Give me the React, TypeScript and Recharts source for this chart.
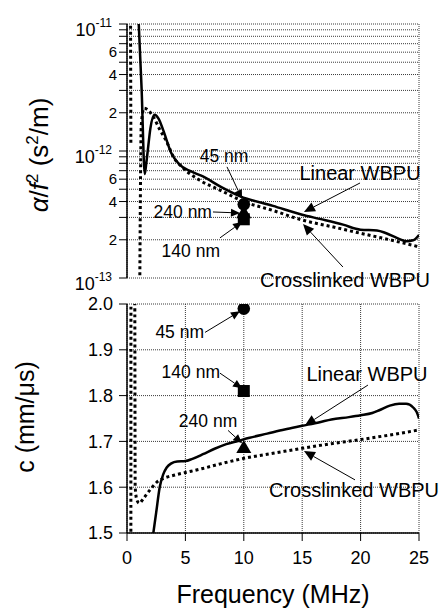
import React from "react";
import { ComposedChart, Line, Scatter, XAxis, YAxis, CartesianGrid, ReferenceLine } from "recharts";

const FONT = '"Liberation Sans", Arial, sans-serif';

// upper panel: alpha / f^2 (s^2/m)
const topLinearFreq = [0.95, 1.25, 1.52, 1.65, 1.8, 2.0, 2.35, 2.7, 3.1, 3.8, 4.5, 5.5, 6.5, 8, 9.7, 12.5, 15, 16.5, 18.5, 20, 21.4, 22.2, 23.1, 23.95, 24.5, 25];
const topLinearAtt = [1.3e-11, 3.1e-12, 6.6e-13, 8e-13, 1.05e-12, 1.5e-12, 1.93e-12, 1.8e-12, 1.46e-12, 9.6e-13, 7.8e-13, 6.9e-13, 6.3e-13, 5.25e-13, 4.4e-13, 3.7e-13, 3.15e-13, 2.92e-13, 2.63e-13, 2.4e-13, 2.37e-13, 2.25e-13, 2.07e-13, 1.95e-13, 1.98e-13, 2.18e-13];

const topCrossFreq = [0.3, 0.33, 0.7, 1.1, 1.22, 1.46, 2.25, 2.83, 3.4, 3.97, 4.7, 6.2, 8, 10, 12.5, 15, 17.5, 20, 22.5, 25];
const topCrossAtt = [1.5e-11, 1.15e-12, null, 1.05e-13, 1.6e-12, 2.17e-12, 1.86e-12, 1.46e-12, 1.18e-12, 9.0e-13, 7.5e-13, 5.9e-13, 4.9e-13, 4.0e-13, 3.4e-13, 2.86e-13, 2.54e-13, 2.25e-13, 2.0e-13, 1.76e-13];

// lower panel: c (mm/us)
const botLinearFreq = [2.2, 2.5, 2.8, 3.1, 3.4, 3.8, 4.3, 5.0, 5.6, 6.5, 7.5, 8.5, 9.5, 10.5, 12, 13.5, 15, 16.5, 17.5, 19, 20, 21, 21.6, 22.5, 23.3, 23.9, 24.5, 24.8, 25];
const botLinearSpeed = [1.49, 1.545, 1.6, 1.628, 1.643, 1.652, 1.656, 1.657, 1.662, 1.672, 1.684, 1.694, 1.701, 1.708, 1.717, 1.726, 1.734, 1.742, 1.748, 1.753, 1.757, 1.762, 1.768, 1.778, 1.782, 1.782, 1.774, 1.764, 1.75];

const botCrossFreq = [0.33, 0.34, 0.66, 0.7, 0.85, 1.05, 1.4, 2.0, 2.6, 3.2, 4, 5, 6.5, 8, 10, 12.5, 15, 17.5, 20, 22.5, 25];
const botCrossSpeed = [1.45, 2.05, 2.05, 1.6, 1.572, 1.565, 1.575, 1.595, 1.612, 1.62, 1.626, 1.632, 1.641, 1.651, 1.663, 1.674, 1.685, 1.695, 1.704, 1.714, 1.725];

// single films at 10 MHz: 45 nm, 140 nm, 240 nm
const filmFreq = 10;
const filmAtt = [3.8e-13, 2.9e-13, 3.3e-13];
const filmSpeed = [1.99, 1.81, 1.688];

const freqTicks = [0, 5, 10, 15, 20, 25];
const attTicks = [
  1e-13, 2e-13, 3e-13, 4e-13, 5e-13, 6e-13, 7e-13, 8e-13, 9e-13,
  1e-12, 2e-12, 3e-12, 4e-12, 5e-12, 6e-12, 7e-12, 8e-12, 9e-12, 1e-11,
];
const attLabelled = [1, 2, 4, 6];
const speedTicks = [1.5, 1.6, 1.7, 1.8, 1.9, 2.0];

const zip = (f: number[], v: (number | null)[]) => f.map((x, i) => ({ f: x, v: v[i] }));

type Note = {
  text: string;
  from: [number, number];
  to: [number, number];
  dx: number;
  dy: number;
  anchor: "start" | "middle" | "end";
  big?: boolean;
};

const topNotes: Note[] = [
  { text: "45 nm", from: [8.56, 7.5e-13], to: [9.85, 4.2e-13], dx: -3, dy: -5, anchor: "middle" },
  { text: "240 nm", from: [7.36, 3.31e-13], to: [9.67, 3.25e-13], dx: -1, dy: 6, anchor: "end" },
  { text: "140 nm", from: [7.96, 2.07e-13], to: [9.85, 2.76e-13], dx: 0, dy: 19, anchor: "end" },
  { text: "Linear WBPU", from: [19.95, 5.6e-13], to: [15.15, 3.31e-13], dx: 0, dy: -3, anchor: "middle", big: true },
  { text: "Crosslinked WBPU", from: [18.49, 1.22e-13], to: [15.07, 2.66e-13], dx: 2, dy: 20, anchor: "middle", big: true },
];

const botNotes: Note[] = [
  { text: "45 nm", from: [6.68, 1.938], to: [9.67, 1.984], dx: -1, dy: 6, anchor: "end" },
  { text: "140 nm", from: [7.96, 1.849], to: [9.85, 1.816], dx: 0, dy: 5, anchor: "end" },
  { text: "240 nm", from: [8.65, 1.724], to: [9.85, 1.696], dx: -20, dy: -3, anchor: "middle" },
  { text: "Linear WBPU", from: [20.63, 1.823], to: [15.24, 1.735], dx: -1, dy: -4, anchor: "middle", big: true },
  { text: "Crosslinked WBPU", from: [19.52, 1.616], to: [15.15, 1.679], dx: -1, dy: 17, anchor: "middle", big: true },
];

function arrowShape(note: Note) {
  return (p: any) => {
    const { x1, y1, x2, y2 } = p;
    const ang = Math.atan2(y2 - y1, x2 - x1);
    const len = note.big ? 11 : 9;
    const half = note.big ? 5 : 4;
    const bx = x2 - len * Math.cos(ang);
    const by = y2 - len * Math.sin(ang);
    const nx = -Math.sin(ang) * half;
    const ny = Math.cos(ang) * half;
    return (
      <g>
        <line x1={x1} y1={y1} x2={bx} y2={by} stroke="#000" strokeWidth={1} />
        <polygon points={`${x2},${y2} ${bx + nx},${by + ny} ${bx - nx},${by - ny}`} fill="#000" />
        <text
          x={x1 + note.dx}
          y={y1 + note.dy}
          textAnchor={note.anchor}
          fontSize={note.big ? 20 : 17.5}
          fontFamily={FONT}
          fill="#000"
        >
          {note.text}
        </text>
      </g>
    );
  };
}

const Dot = (p: any) => <circle cx={p.cx} cy={p.cy} r={6.3} fill="#000" />;
const Sq = (p: any) => <rect x={p.cx - 6} y={p.cy - 6} width={12} height={12} fill="#000" />;
const Tri = (p: any) => (
  <polygon points={`${p.cx},${p.cy - 7} ${p.cx + 7.5},${p.cy + 6} ${p.cx - 7.5},${p.cy + 6}`} fill="#000" />
);
const filmShapes = [Dot, Sq, Tri];

function LogTick(props: any) {
  const { x, y, payload } = props;
  const v = payload.value as number;
  const e = Math.floor(Math.log10(v) + 1e-9);
  const m = Math.round(v / Math.pow(10, e));
  if (m === 1) {
    return (
      <text x={x - 5} y={y} textAnchor="end" fontFamily={FONT} fill="#000">
        <tspan dy={12} fontSize={18}>10</tspan>
        <tspan dy={-9} fontSize={12}>{`${e}`}</tspan>
      </text>
    );
  }
  if (!attLabelled.includes(m)) return <g />;
  return (
    <text x={x} y={y} dy={5} textAnchor="end" fontSize={15} fontFamily={FONT} fill="#000">
      {m}
    </text>
  );
}

const gridProps = { stroke: "#3a3a3a", strokeDasharray: "1 1", strokeWidth: 1 };
const axisLineStyle = { stroke: "#000", strokeWidth: 1.5 };

function TopTitle(props: any) {
  const vb = props.viewBox;
  const cx = vb.x + 38;
  const cy = vb.y + vb.height / 2 + 4;
  return (
    <text x={cx} y={cy} transform={`rotate(-90 ${cx} ${cy})`} textAnchor="middle" fontSize={26} fontFamily={FONT} fill="#000">
      <tspan fontStyle="italic">α</tspan>
      <tspan>/</tspan>
      <tspan fontStyle="italic">f</tspan>
      <tspan dy={-10} fontSize={17}>2</tspan>
      <tspan dy={10}> (s</tspan>
      <tspan dy={-10} fontSize={17}>2</tspan>
      <tspan dy={10}>/m)</tspan>
    </text>
  );
}

function BotTitle(props: any) {
  const vb = props.viewBox;
  const cx = vb.x + 23.5;
  const cy = vb.y + vb.height / 2 - 1.5;
  return (
    <text x={cx} y={cy} transform={`rotate(-90 ${cx} ${cy})`} textAnchor="middle" fontSize={25} fontFamily={FONT} fill="#000">
      c (mm/μs)
    </text>
  );
}

function FreqTitle(props: any) {
  const vb = props.viewBox;
  return (
    <text x={vb.x + vb.width / 2} y={vb.y + 70} textAnchor="middle" fontSize={25} fontFamily={FONT} fill="#000">
      Frequency (MHz)
    </text>
  );
}

export default function App() {
  const topLinear = zip(topLinearFreq, topLinearAtt);
  const topCross = zip(topCrossFreq, topCrossAtt);
  const botLinear = zip(botLinearFreq, botLinearSpeed);
  const botCross = zip(botCrossFreq, botCrossSpeed);

  return (
    <div style={{ position: "absolute", left: 0, top: 0, width: 443, height: 608, background: "#fff", fontFamily: FONT }}>
      <div style={{ position: "absolute", left: 0, top: 0 }}>
        <ComposedChart width={443} height={300} margin={{ top: 24, right: 24, bottom: 21, left: 10 }}>
          <CartesianGrid {...gridProps} />
          <XAxis
            type="number"
            dataKey="f"
            domain={[0, 25]}
            ticks={freqTicks}
            height={1}
            tick={false}
            tickLine={false}
            axisLine={false}
            allowDataOverflow
          />
          <YAxis
            type="number"
            dataKey="v"
            scale="log"
            domain={[1e-13, 1e-11]}
            ticks={attTicks}
            interval={0}
            allowDataOverflow
            width={117}
            tickSize={8}
            tickMargin={2}
            tick={<LogTick />}
            tickLine={{ stroke: "#000" }}
            axisLine={axisLineStyle}
            label={<TopTitle />}
          />
          <Line data={topCross} dataKey="v" type="monotone" stroke="#000" strokeWidth={3} strokeDasharray="3 3" dot={false} connectNulls={false} isAnimationActive={false} />
          <Line data={topLinear} dataKey="v" type="monotone" stroke="#000" strokeWidth={2.5} dot={false} isAnimationActive={false} />
          {filmShapes.map((shape, i) => (
            <Scatter key={i} data={[{ f: filmFreq, v: filmAtt[i] }]} dataKey="v" shape={shape} isAnimationActive={false} />
          ))}
          {topNotes.map((n) => (
            <ReferenceLine
              key={n.text}
              segment={[{ x: n.from[0], y: n.from[1] }, { x: n.to[0], y: n.to[1] }]}
              ifOverflow="visible"
              shape={arrowShape(n)}
            />
          ))}
        </ComposedChart>
      </div>
      <div style={{ position: "absolute", left: 0, top: 290 }}>
        <ComposedChart width={443} height={318} margin={{ top: 14, right: 24, bottom: 0, left: 10 }}>
          <CartesianGrid {...gridProps} />
          <XAxis
            type="number"
            dataKey="f"
            domain={[0, 25]}
            ticks={freqTicks}
            allowDataOverflow
            height={75}
            tickSize={8}
            tickMargin={10}
            tick={{ fontSize: 18, fill: "#000", fontFamily: FONT }}
            tickLine={{ stroke: "#000" }}
            axisLine={axisLineStyle}
            label={<FreqTitle />}
          />
          <YAxis
            type="number"
            dataKey="v"
            domain={[1.5, 2.0]}
            ticks={speedTicks}
            interval={0}
            allowDataOverflow
            width={117}
            tickSize={8}
            tickMargin={6}
            tickFormatter={(v: number) => v.toFixed(1)}
            tick={{ fontSize: 18, fill: "#000", fontFamily: FONT }}
            tickLine={{ stroke: "#000" }}
            axisLine={axisLineStyle}
            label={<BotTitle />}
          />
          <Line data={botCross} dataKey="v" type="monotone" stroke="#000" strokeWidth={3} strokeDasharray="3 3" dot={false} isAnimationActive={false} />
          <Line data={botLinear} dataKey="v" type="monotone" stroke="#000" strokeWidth={2.5} dot={false} isAnimationActive={false} />
          {filmShapes.map((shape, i) => (
            <Scatter key={i} data={[{ f: filmFreq, v: filmSpeed[i] }]} dataKey="v" shape={shape} isAnimationActive={false} />
          ))}
          {botNotes.map((n) => (
            <ReferenceLine
              key={n.text}
              segment={[{ x: n.from[0], y: n.from[1] }, { x: n.to[0], y: n.to[1] }]}
              ifOverflow="visible"
              shape={arrowShape(n)}
            />
          ))}
        </ComposedChart>
      </div>
    </div>
  );
}
